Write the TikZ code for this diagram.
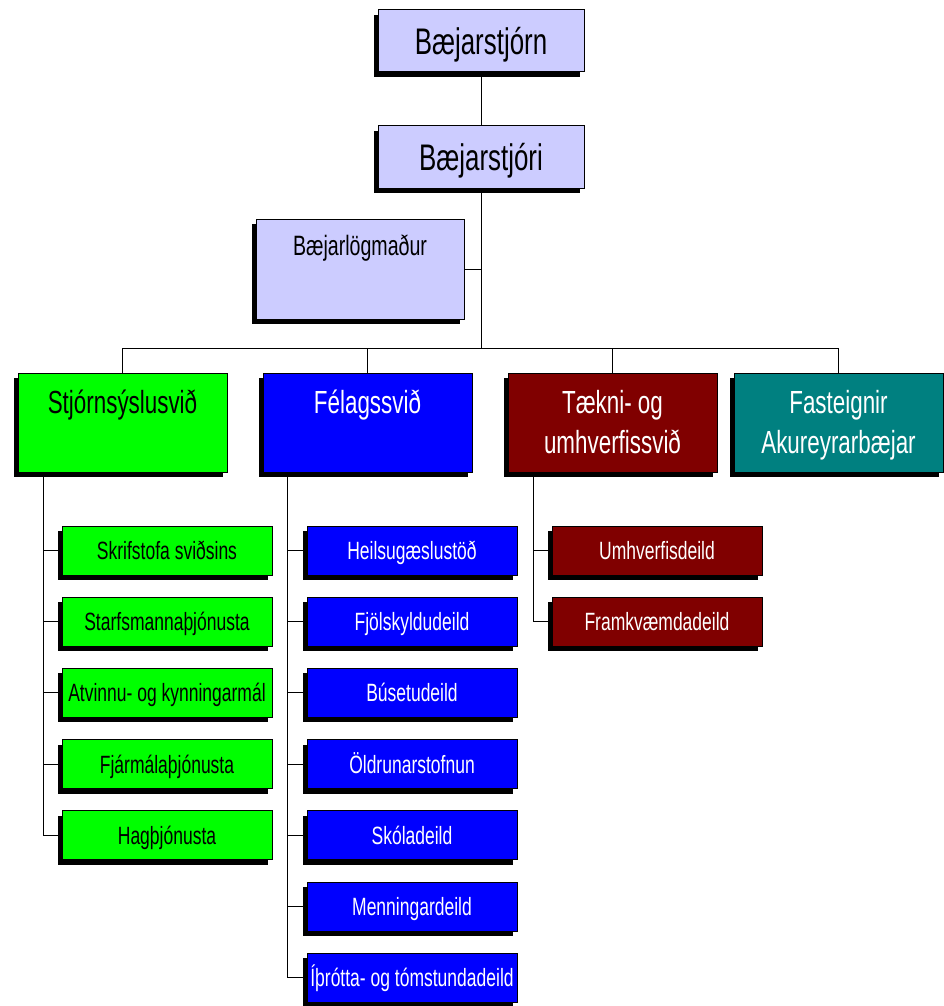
\documentclass[tikz,border=0pt]{standalone}
\usepackage{fontspec}
\setmainfont{Liberation Sans}[FakeStretch=0.7]
\usetikzlibrary{shadows,calc}
\definecolor{lav}{HTML}{CCCCFF}
\definecolor{dgreen}{HTML}{00FF00}
\definecolor{dblue}{HTML}{0000FF}
\definecolor{dbrown}{HTML}{800000}
\definecolor{dteal}{HTML}{008080}
\tikzset{
  box/.style={draw=black, line width=1pt, rectangle, inner sep=0pt,
    drop shadow={shadow xshift=-4pt, shadow yshift=-5pt, opacity=1, fill=black}},
  topbox/.style={box, fill=lav, minimum width=206pt, minimum height=62pt,
    text height=26.5pt, text depth=0pt, font=\fontsize{37}{40}\selectfont},
  lawbox/.style={box, fill=lav, minimum width=208pt, minimum height=100pt},
  divbox/.style={box, minimum width=209pt, minimum height=99pt},
  subbox/.style={box, minimum width=210pt, minimum height=49pt,
    text height=17.9pt, text depth=0pt, font=\fontsize{25}{28}\selectfont},
  divtext/.style={anchor=base, inner sep=0pt, font=\fontsize{32}{40}\selectfont},
  lawtext/.style={anchor=base, inner sep=0pt, font=\fontsize{28}{32}\selectfont},
  conn/.style={draw=black, line width=1pt},
}
\begin{document}
\begin{tikzpicture}[x=1pt, y=-1pt]
\fill[white] (0,0) rectangle (944,1006);
\useasboundingbox (0,0) rectangle (944,1006);

% top
\node[topbox] (bstjorn) at (481,41) {Bæjarstjórn};
\node[topbox] (bstjori) at (481,157) {Bæjarstjóri};
\node[lawbox] (law) at (360,269) {};
\node[lawtext] (lawtxt) at (360,255) {Bæjarlögmaður};

% divisions
\node[divbox, fill=dgreen] (stj) at (122.5,422.5) {};
\node[divtext, text=black] (stjtxt) at (122.5,413) {Stjórnsýslusvið};
\node[divbox, fill=dblue] (fel) at (367.5,422.5) {};
\node[divtext, text=white] (feltxt) at (367.5,413) {Félagssvið};
\node[divbox, fill=dbrown] (tak) at (612.5,422.5) {};
\node[divtext, text=white] (taktxt) at (612.5,413) {\begin{tabular}[t]{@{}c@{}}Tækni- og\\umhverfissvið\end{tabular}};
\node[divbox, fill=dteal] (fas) at (838.5,422.5) {};
\node[divtext, text=white] (fastxt) at (838.5,413) {\begin{tabular}[t]{@{}c@{}}Fasteignir\\Akureyrarbæjar\end{tabular}};

% green subs
\node[subbox, fill=dgreen, text=black] (g1) at (167,550.5) {Skrifstofa sviðsins};
\node[subbox, fill=dgreen, text=black] (g2) at (167,621.7) {Starfsmannaþjónusta};
\node[subbox, fill=dgreen, text=black] (g3) at (167,692.9) {Atvinnu- og kynningarmál};
\node[subbox, fill=dgreen, text=black] (g4) at (167,764.1) {Fjármálaþjónusta};
\node[subbox, fill=dgreen, text=black] (g5) at (167,835.3) {Hagþjónusta};

% blue subs
\node[subbox, fill=dblue, text=white] (b1) at (412,550.5) {Heilsugæslustöð};
\node[subbox, fill=dblue, text=white] (b2) at (412,621.7) {Fjölskyldudeild};
\node[subbox, fill=dblue, text=white] (b3) at (412,692.9) {Búsetudeild};
\node[subbox, fill=dblue, text=white] (b4) at (412,764.1) {Öldrunarstofnun};
\node[subbox, fill=dblue, text=white] (b5) at (412,835.3) {Skóladeild};
\node[subbox, fill=dblue, text=white] (b6) at (412,906.5) {Menningardeild};
\node[subbox, fill=dblue, text=white] (b7) at (412,977.7) {Íþrótta- og tómstundadeild};

% brown subs
\node[subbox, fill=dbrown, text=white] (r1) at (657,550.5) {Umhverfisdeild};
\node[subbox, fill=dbrown, text=white] (r2) at (657,621.7) {Framkvæmdadeild};

% connectors
\coordinate (bus) at (481,348);
\draw[conn] (bstjorn.south) -- (bstjori.north);
\draw[conn] (bstjori.south) -- (bus);
\draw[conn] (law.east) -- (law.east -| bus);
\draw[conn] (stj.north |- bus) -- (fas.north |- bus);
\foreach \d in {stj,fel,tak,fas}{
  \draw[conn] (\d.north |- bus) -- (\d.north);
}
\coordinate (stjT) at ($(stj.south west)+(26,0)$);
\coordinate (felT) at ($(fel.south west)+(25,0)$);
\coordinate (takT) at ($(tak.south west)+(26,0)$);
\draw[conn] (stjT) |- (g5.west);
\foreach \s in {g1,g2,g3,g4}{ \draw[conn] (\s.west -| stjT) -- (\s.west); }
\draw[conn] (felT) |- (b7.west);
\foreach \s in {b1,b2,b3,b4,b5,b6}{ \draw[conn] (\s.west -| felT) -- (\s.west); }
\draw[conn] (takT) |- (r2.west);
\draw[conn] (r1.west -| takT) -- (r1.west);
\end{tikzpicture}
\end{document}
